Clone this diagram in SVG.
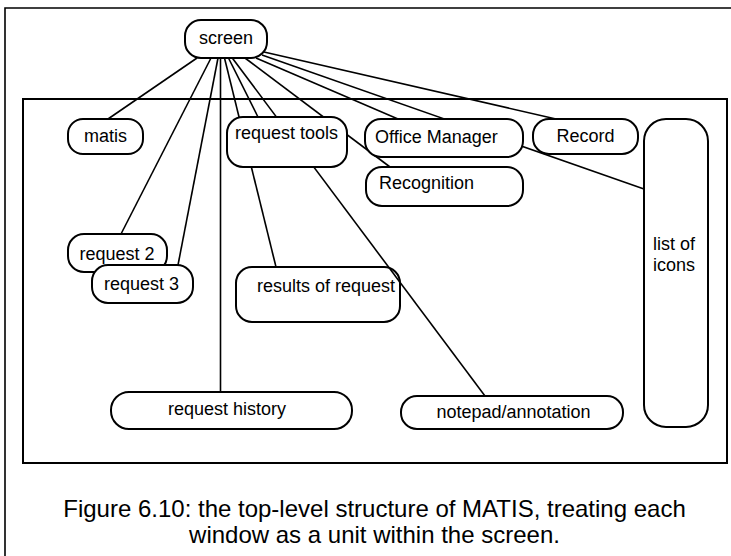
<svg xmlns="http://www.w3.org/2000/svg" width="731" height="556" viewBox="0 0 731 556">
<style>
.n{fill:#fff;stroke:#000;stroke-width:2}
.t{font-family:"Liberation Sans",Arial,sans-serif;font-size:18px;fill:#000}
.c{stroke:#000;stroke-width:1.6;fill:none}
.cap{font-family:"Liberation Sans",Arial,sans-serif;font-size:24px;fill:#000;text-anchor:middle}
</style>
<rect width="731" height="556" fill="#fff"/>
<path d="M5,556 V8 H731" fill="none" stroke="#000" stroke-width="1.6"/>
<rect id="window-area" x="23" y="99" width="704" height="364" fill="none" stroke="#000" stroke-width="2"/>
<g id="connectors">
<line class="c" x1="197" y1="58" x2="108" y2="119"/>
<line class="c" x1="211" y1="58" x2="121" y2="234"/>
<line class="c" x1="218" y1="58" x2="178" y2="265"/>
<line class="c" x1="220.5" y1="58" x2="220.5" y2="392"/>
<line class="c" x1="224.5" y1="58" x2="276" y2="267"/>
<line class="c" x1="228.5" y1="58" x2="258" y2="117"/>
<line class="c" x1="232.3" y1="58" x2="485" y2="396"/>
<line class="c" x1="245" y1="58" x2="390" y2="167"/>
<line class="c" x1="256" y1="58" x2="398" y2="119"/>
<line class="c" x1="262" y1="55" x2="644" y2="189"/>
<line class="c" x1="264" y1="52" x2="556" y2="119"/>
</g>
<g id="screen"><rect class="n" x="185" y="20" width="82" height="38" rx="16"/><text class="t" x="226" y="44" text-anchor="middle">screen</text></g>
<g id="matis"><rect class="n" x="68" y="119" width="75" height="35" rx="15"/><text class="t" x="105.5" y="142" text-anchor="middle">matis</text></g>
<g id="request-tools"><rect class="n" x="227" y="117" width="120" height="50" rx="16"/><text class="t" x="235" y="139">request tools</text></g>
<g id="office-manager"><rect class="n" x="365" y="119" width="158" height="38" rx="16"/><text class="t" x="375" y="143">Office Manager</text></g>
<g id="record"><rect class="n" x="533" y="119" width="105" height="35" rx="16"/><text class="t" x="585.5" y="142" text-anchor="middle">Record</text></g>
<g id="list-of-icons"><rect class="n" x="644" y="119" width="64" height="308" rx="22"/><text class="t" x="653" y="250">list of</text><text class="t" x="653" y="271">icons</text></g>
<g id="recognition"><rect class="n" x="366" y="167" width="157" height="39" rx="16"/><text class="t" x="379" y="189">Recognition</text></g>
<g id="results-of-request"><rect class="n" x="236" y="267" width="164" height="55" rx="16" style="fill:none"/><text class="t" x="257" y="292">results of request</text></g>
<g id="request-2"><rect class="n" x="68" y="234" width="99" height="38" rx="16"/><text class="t" x="79.5" y="260">request 2</text></g>
<g id="request-3"><rect class="n" x="92" y="265" width="101" height="38" rx="16"/><text class="t" x="104" y="290">request 3</text></g>
<g id="request-history"><rect class="n" x="111" y="392" width="241" height="37" rx="18"/><text class="t" x="227" y="415" text-anchor="middle">request history</text></g>
<g id="notepad-annotation"><rect class="n" x="401" y="396" width="222" height="33" rx="16"/><text class="t" x="513.5" y="418" text-anchor="middle">notepad/annotation</text></g>
<text class="cap" x="374.5" y="517">Figure 6.10: the top-level structure of MATIS, treating each</text>
<text class="cap" x="374.5" y="543">window as a unit within the screen.</text>
</svg>
